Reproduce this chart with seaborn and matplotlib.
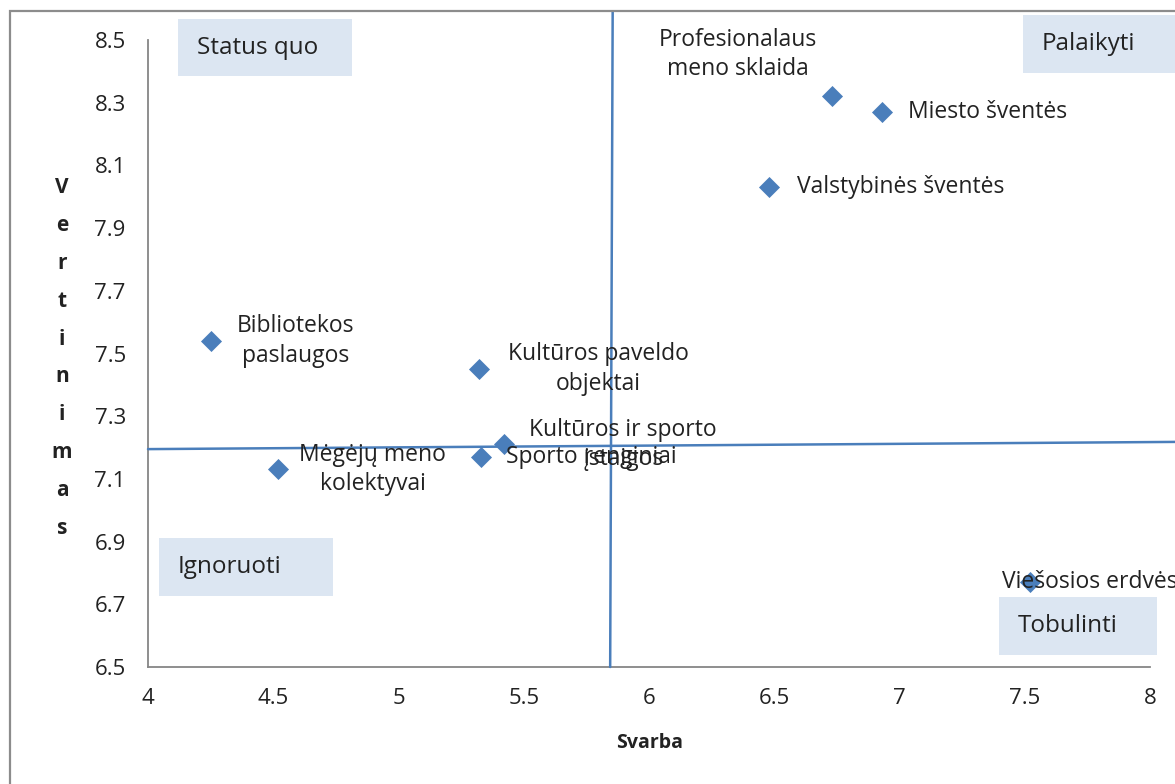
import matplotlib
matplotlib.use("Agg")
import matplotlib.pyplot as plt
import seaborn as sns
import pandas as pd
from matplotlib.patches import Rectangle

sns.set_style("white")
plt.rcParams['font.family'] = ['Open Sans', 'DejaVu Sans']

# ---- data ----
labels = ["Bibliotekos\npaslaugos", "Mėgėjų meno\nkolektyvai", "Kultūros paveldo\nobjektai",
          "Kultūros ir sporto\nįstaigos", "Sporto renginiai", "Valstybinės šventės",
          "Profesionalaus\nmeno sklaida", "Miesto šventės", "Viešosios erdvės"]
svarba = [4.25, 4.52, 5.32, 5.42, 5.33, 6.48, 6.73, 6.93, 7.52]
vertinimas = [7.54, 7.13, 7.45, 7.21, 7.17, 8.03, 8.32, 8.27, 6.77]
x_ticks = [4, 4.5, 5, 5.5, 6, 6.5, 7, 7.5, 8]
y_ticks = [6.5, 6.7, 6.9, 7.1, 7.3, 7.5, 7.7, 7.9, 8.1, 8.3, 8.5]
quadrants = ["Status quo", "Palaikyti", "Ignoruoti", "Tobulinti"]

df = pd.DataFrame({"Svarba": svarba, "Vertinimas": vertinimas, "label": labels})

W, H = 1175, 784
fig = plt.figure(figsize=(W / 100, H / 100), dpi=100)
ax = fig.add_axes([148 / W, 1 - 667 / H, (1150 - 148) / W, (667 - 40) / H])

blue = "#4a7ebb"
sns.scatterplot(data=df, x="Svarba", y="Vertinimas", marker="D", s=115,
                color=blue, edgecolor=blue, linewidth=0, ax=ax, zorder=5, clip_on=False)

ax.set_xlim(4, 8)
ax.set_ylim(6.5, 8.5)
ax.set_xticks(x_ticks)
ax.set_xticklabels([f"{v:g}" for v in x_ticks])
ax.set_yticks(y_ticks)
ax.set_yticklabels([f"{v:.1f}" for v in y_ticks])
for s in ["top", "right"]:
    ax.spines[s].set_visible(False)
for s in ["left", "bottom"]:
    ax.spines[s].set_color("#868686")
    ax.spines[s].set_linewidth(1.3)
ax.tick_params(axis="both", direction="out", length=6, width=1.2, color="#868686",
               labelsize=16, labelcolor="#222222")
ax.tick_params(axis="x", pad=9)
ax.tick_params(axis="y", pad=10)
ax.set_xlabel("")
ax.set_ylabel("")

# point labels (offsets in points relative to marker)
offsets = [(61, 0, "center"), (68, 0, "center"), (86, 0, "center"),
           (86, 0, "center"), (18, 0, "left"), (20, 0, "left"),
           (-68, 30, "center"), (19, 0, "left"), (-20, 0, "left")]
for (lab, x, y), (dx, dy, ha) in zip(zip(labels, svarba, vertinimas), offsets):
    ax.annotate(lab, (x, y), xytext=(dx, dy), textcoords="offset points",
                ha=ha, va="center", fontsize=16.5, color="#222222",
                linespacing=1.3, annotation_clip=False, zorder=6)

# quadrant dividing lines (slightly tilted as in the reference)
ax.plot([5.855, 5.845], [8.59, 6.5], color=blue, lw=1.8, clip_on=False, zorder=3)
ax.plot([4.0, 8.1], [7.195, 7.218], color=blue, lw=1.8, clip_on=False, zorder=3)

# quadrant label boxes (pixel positions of figure)
boxes = [(178, 19, 352, 76), (1023, 15, 1185, 73), (159, 538, 333, 596), (999, 597, 1157, 655)]
for q, (x0, y0, x1, y1) in zip(quadrants, boxes):
    fig.patches.append(Rectangle((x0 / W, 1 - y1 / H), (x1 - x0) / W, (y1 - y0) / H,
                                 transform=fig.transFigure, facecolor="#dce6f2",
                                 edgecolor="none", zorder=0))
    fig.text((x0 + 19) / W, 1 - (y0 + y1) / 2 / H, q, ha="left", va="center",
             fontsize=17.5, color="#222222", zorder=7)

# axis titles
fig.text(650 / W, 1 - 743 / H, "Svarba", ha="center", va="center",
         fontsize=14, fontweight="bold", color="#222222")
fig.text(62 / W, 1 - 358 / H, "\n".join("Vertinimas"), ha="center", va="center",
         fontsize=15, fontweight="bold", color="#222222", linespacing=2.05)

# outer chart border
fig.patches.append(Rectangle((10 / W, -0.1), 1.2, 1 - 11 / H + 0.1, transform=fig.transFigure,
                             facecolor="none", edgecolor="#8c8c8c", linewidth=1.6, zorder=10))

fig.savefig("out.png", dpi=100)
